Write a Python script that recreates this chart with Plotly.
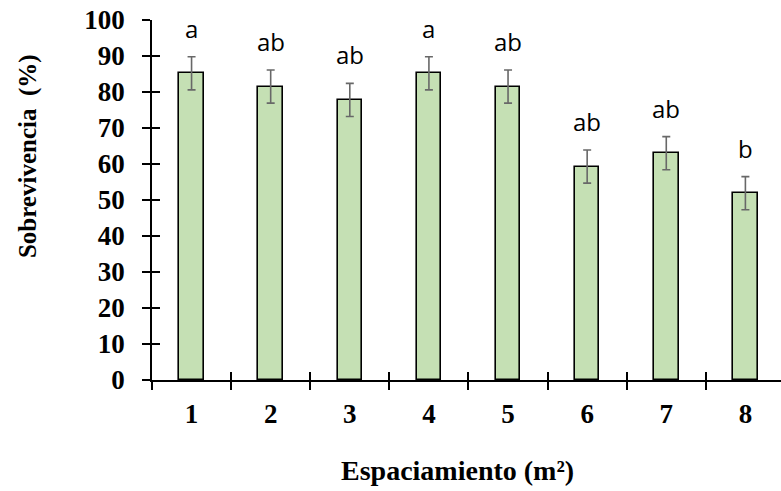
import plotly.graph_objects as go

# Survival (%) by spacing treatment, with standard error and significance letters
espaciamiento = ["1", "2", "3", "4", "5", "6", "7", "8"]
sobrevivencia = [85.2, 81.5, 77.8, 85.2, 81.5, 59.3, 63.0, 51.9]
error_std = [4.6, 4.6, 4.6, 4.6, 4.6, 4.6, 4.6, 4.6]
letras = ["a", "ab", "ab", "a", "ab", "ab", "ab", "b"]
y_ticks = [0, 10, 20, 30, 40, 50, 60, 70, 80, 90, 100]

pos = [int(e) for e in espaciamiento]
bordes = [p - 0.5 for p in pos]

SERIF = "Liberation Serif"
SANS = "Open Sans"
x_range = [0.5, 8.45]

fig = go.Figure()
fig.add_trace(go.Bar(
    x=pos, y=sobrevivencia, width=0.31,
    marker=dict(color="#C5E0B4", line=dict(color="black", width=1.6)),
    error_y=dict(type="data", array=error_std, visible=True,
                 color="#686868", thickness=1.6, width=4),
    hoverinfo="skip",
))
# empty trace so the overlay axes (inner halves of the ticks) are drawn
fig.add_trace(go.Scatter(x=[None], y=[None], xaxis="x2", yaxis="y2",
                         showlegend=False, hoverinfo="skip"))

for p, v, e, t in zip(pos, sobrevivencia, error_std, letras):
    fig.add_annotation(x=p, y=v + e, text=t, showarrow=False,
                       yanchor="bottom", yshift=10,
                       font=dict(family=SANS, size=24, color="black"))

fig.add_annotation(xref="paper", yref="paper", x=0, y=0.622, xshift=-124,
                   text="Sobrevivencia  (%)", textangle=-90, showarrow=False,
                   xanchor="center", yanchor="middle",
                   font=dict(family=SERIF, size=25, color="black", weight="bold"))
fig.add_annotation(xref="paper", yref="paper", x=0.5, y=0, xshift=-9, yshift=-90,
                   text="Espaciamiento (m²)", showarrow=False,
                   xanchor="center", yanchor="middle",
                   font=dict(family=SERIF, size=28, color="black", weight="bold"))

fig.update_layout(
    width=781, height=491,
    margin=dict(l=152, r=0, t=20, b=111),
    paper_bgcolor="white", plot_bgcolor="white",
    showlegend=False, bargap=0,
    xaxis=dict(
        range=x_range, tickmode="array", tickvals=pos, ticktext=espaciamiento,
        ticks="outside", ticklen=8, tickcolor="rgba(0,0,0,0)",
        ticklabelstandoff=1,
        minor=dict(tickmode="array", tickvals=bordes, ticks="outside",
                   ticklen=8, tickwidth=1.5, tickcolor="black", showgrid=False),
        showline=True, linecolor="black", linewidth=1.5,
        showgrid=False, zeroline=False,
        tickfont=dict(family=SERIF, size=27, color="black", weight="bold"),
    ),
    yaxis=dict(
        range=[0, 100], tickmode="array", tickvals=y_ticks,
        ticks="outside", ticklen=8, tickwidth=1.5, tickcolor="black",
        ticklabelstandoff=12,
        showline=True, linecolor="black", linewidth=1.5,
        showgrid=False, zeroline=False,
        tickfont=dict(family=SERIF, size=27, color="black", weight="bold"),
    ),
    xaxis2=dict(
        overlaying="x", anchor="y", side="bottom", range=x_range,
        tickmode="array", tickvals=bordes, ticks="inside", ticklen=8,
        tickwidth=1.5, tickcolor="black", showticklabels=False,
        showline=False, showgrid=False, zeroline=False,
    ),
    yaxis2=dict(
        overlaying="y", anchor="x", side="left", range=[0, 100],
        tickmode="array", tickvals=y_ticks, ticks="inside", ticklen=8,
        tickwidth=1.5, tickcolor="black", showticklabels=False,
        showline=False, showgrid=False, zeroline=False,
    ),
)

fig.write_html("out.html")
